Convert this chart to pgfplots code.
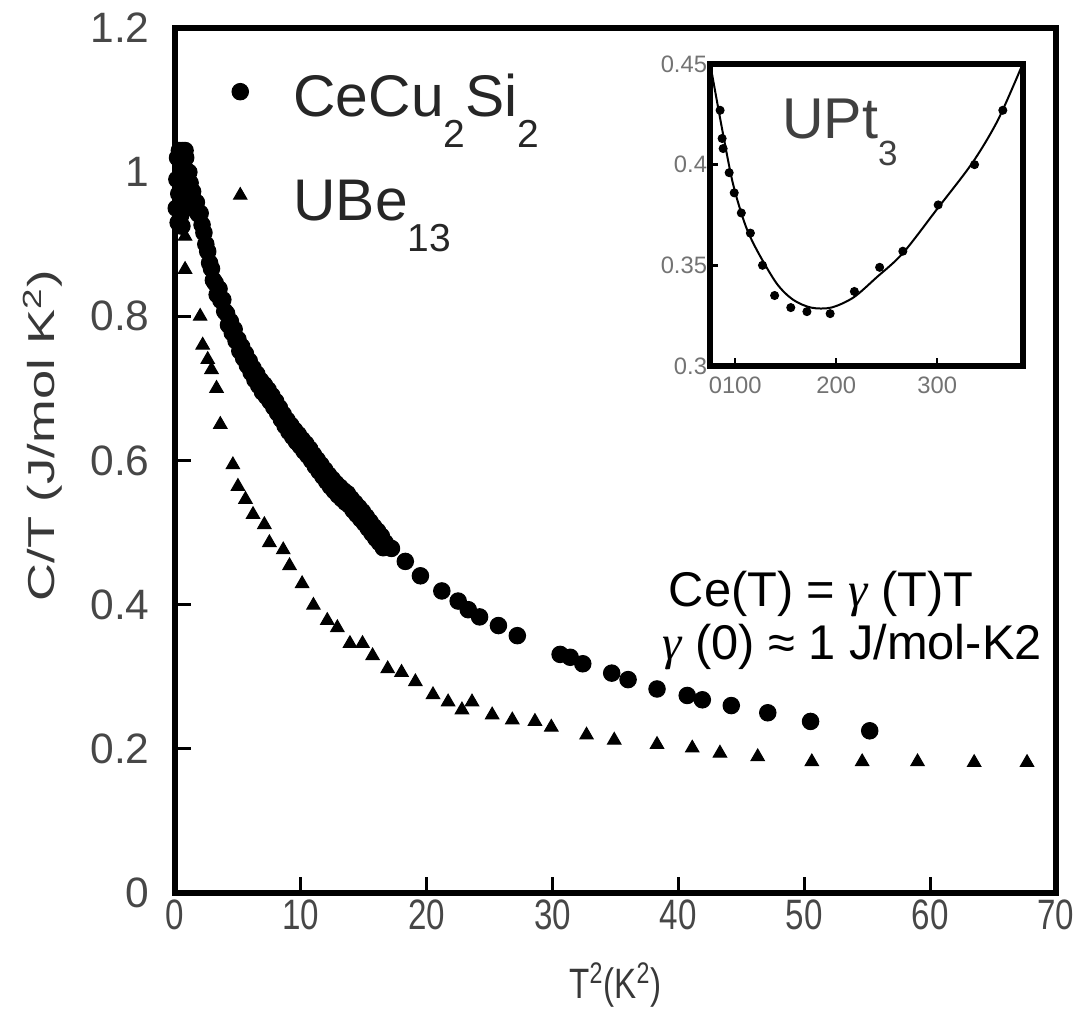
\documentclass[border=0pt]{standalone}
\usepackage{pgfplots}
\pgfplotsset{compat=1.18}
\usepackage{fontspec}
\setmainfont{Liberation Sans}
\newfontfamily\gamfont{Liberation Serif}
\newcommand{\gam}{{\gamfont\itshape γ}}
\newcommand{\lsub}[1]{\raisebox{-12.5pt}{\fontsize{15.6}{18}\selectfont #1}}
\newcommand{\xt}[1]{\scalebox{0.78}[1]{#1}}
\begin{document}
\begin{tikzpicture}
\path[use as bounding box] (-70pt,-56.4pt) rectangle (364.4pt,357.2pt);
\begin{axis}[
  scale only axis, width=352.4pt, height=346pt,
  xmin=0, xmax=70, ymin=0, ymax=1.2,
  clip=false,
  xtick={0,10,20,30,40,50,60,70},
  xticklabels={\xt{0},\xt{10},\xt{20},\xt{30},\xt{40},\xt{50},\xt{60},\xt{70}},
  ytick={0,0.2,0.4,0.6,0.8,1,1.2}, yticklabels={0,0.2,0.4,0.6,0.8,1,1.2},
  tick align=inside, major tick length=6.5pt, xtick pos=bottom, ytick pos=left,
  axis line style={line width=2.4pt},
  tick style={line width=1.2pt, black},
  ticklabel style={font=\fontsize{17}{20}\selectfont, text=black!72},
  xticklabel style={inner sep=0pt, anchor=north, yshift=-2.7pt},
  yticklabel style={inner sep=0pt, anchor=east, xshift=-10pt},
  xlabel={\scalebox{0.78}[1]{T\textsuperscript{2}(K\textsuperscript{2})}},
  ylabel={\scalebox{1.4}[1]{C/T (J/mol K\textsuperscript{2})}},
  xlabel style={font=\fontsize{17}{20}\selectfont, text=black!78, at={(axis description cs:0.5,0)}, anchor=center, yshift=-36.8pt},
  ylabel style={font=\fontsize{15}{18}\selectfont, text=black!78, at={(axis description cs:0,0.5)}, anchor=center, yshift=52.8pt, xshift=10pt},
  legend cell align=left,
  legend style={at={(axis cs:4.53,1.136)}, anchor=north west, draw=none, fill=none,
    inner sep=0pt, outer sep=0pt, row sep=12.8pt,
    font=\fontsize{23.5}{28}\selectfont, text=black!85,
    cells={anchor=base west},
    nodes={inner sep=0pt, text depth=},
    /tikz/every odd column/.append style={column sep=18pt}},
  legend image code/.code={\draw[#1] plot coordinates {(0pt,10pt)};},
]
\addplot[only marks, mark=*, mark size=3.3pt, black] coordinates {
(0.1,0.95)(0.15,0.99)(0.2,1.02)(0.3,0.97)(0.35,1.03)(0.45,0.94)(0.5,1.0)(0.6,1.03)
(0.65,0.96)(0.75,0.99)(0.85,1.02)(0.9,0.95)(1.0,0.975)(1.1,1.0)(1.15,0.955)(0.25,0.93)
(0.55,0.925)(0.8,1.03)(1.2,0.985)
(1.4,0.973)(1.55,0.957)(1.7,0.958)(1.85,0.942)(2.0,0.943)(2.15,0.927)(2.3,0.916)(2.45,0.900)
(2.6,0.890)(2.75,0.874)(2.9,0.866)(3.05,0.850)(3.2,0.846)(3.35,0.830)(3.5,0.838)(3.65,0.822)
(3.8,0.823)(3.95,0.807)(4.1,0.804)(4.25,0.788)(4.4,0.793)(4.55,0.777)(4.7,0.782)(4.85,0.766)
(5.0,0.768)(5.15,0.752)(5.3,0.758)(5.45,0.742)(5.6,0.748)(5.75,0.732)(5.9,0.738)(6.05,0.722)
(6.2,0.728)(6.35,0.712)(6.5,0.720)(6.65,0.704)(6.8,0.711)(6.95,0.695)(7.1,0.705)(7.25,0.689)
(7.4,0.698)(7.55,0.682)(7.7,0.690)(7.85,0.674)(8.0,0.682)(8.15,0.666)(8.3,0.673)(8.45,0.657)
(8.6,0.664)(8.75,0.648)(8.9,0.656)(9.05,0.640)(9.2,0.649)(9.35,0.633)(9.5,0.642)(9.65,0.626)
(9.8,0.636)(9.95,0.620)(10.1,0.629)(10.25,0.613)(10.4,0.623)(10.55,0.607)(10.7,0.616)(10.85,0.600)
(11.0,0.608)(11.15,0.592)(11.3,0.601)(11.45,0.585)(11.6,0.594)(11.75,0.578)(11.9,0.587)(12.05,0.571)
(12.2,0.580)(12.35,0.564)(12.5,0.574)(12.65,0.558)(12.8,0.568)(12.95,0.552)(13.1,0.563)(13.25,0.547)
(13.4,0.558)(13.55,0.542)(13.7,0.554)(13.85,0.538)(14.0,0.547)(14.15,0.531)(14.3,0.541)(14.45,0.525)
(14.6,0.535)(14.75,0.519)(14.9,0.529)(15.05,0.513)(15.2,0.522)(15.35,0.506)(15.5,0.515)(15.65,0.499)
(15.8,0.508)(15.95,0.492)(16.1,0.502)(16.25,0.486)(16.4,0.495)(16.55,0.479)(16.7,0.486)
(17.2,0.478)(18.3,0.460)(19.5,0.440)(21.2,0.419)(22.5,0.405)(23.3,0.393)(24.2,0.383)
(25.7,0.371)(27.2,0.357)(30.6,0.331)(31.4,0.327)(32.4,0.318)(34.7,0.305)(36.0,0.296)
(38.3,0.283)(40.7,0.274)(41.9,0.268)(44.2,0.260)(47.1,0.250)(50.5,0.238)(55.2,0.225)
};
\addlegendentry{CeCu\lsub{2}Si\lsub{2}}
\addplot[only marks, mark=triangle*, mark size=3.1pt, black] coordinates {
(0.8,0.911)(0.8,0.865)(2.0,0.800)(2.2,0.760)(2.6,0.740)(2.9,0.726)(3.3,0.700)(3.6,0.650)
(4.6,0.594)(5.0,0.564)(5.6,0.546)(6.2,0.525)(7.1,0.511)(7.5,0.486)(8.6,0.476)(9.1,0.454)
(10.1,0.429)(11.0,0.399)(12.1,0.378)(12.9,0.368)(13.9,0.346)(14.9,0.346)(15.7,0.329)
(16.9,0.311)(18.0,0.306)(19.1,0.293)(20.5,0.275)(21.7,0.265)(22.8,0.254)(23.6,0.265)
(25.2,0.247)(26.8,0.240)(28.6,0.238)(29.9,0.230)(32.7,0.219)(34.9,0.212)(38.3,0.206)
(41.1,0.201)(43.3,0.194)(46.3,0.189)(50.6,0.182)(54.6,0.182)(59.0,0.182)(63.5,0.181)(67.7,0.181)
};
\addlegendentry{UBe\lsub{13}}
\node[anchor=base west, font=\fontsize{19.5}{23}\selectfont, inner sep=0pt] at (axis cs:39.2,0.397) {Ce(T) = \gam\ (T)T};
\node[anchor=base west, font=\fontsize{19.5}{23}\selectfont, inner sep=0pt] at (axis cs:38.7,0.324) {\gam\ (0) ≈ 1 J/mol-K2};
\end{axis}
\begin{axis}[
  at={(214pt,210.8pt)}, anchor=south west,
  scale only axis, width=125.2pt, height=120.8pt,
  xmin=75, xmax=385, ymin=0.3, ymax=0.45,
  axis background/.style={fill=white},
  xtick={100,200,300}, xticklabels={0100,200,300},
  ytick={0.3,0.35,0.4,0.45}, yticklabels={0.3,0.35,0.4,0.45},
  tick align=inside, major tick length=3pt, xtick pos=bottom, ytick pos=left,
  axis line style={line width=2.4pt},
  tick style={line width=1pt, black},
  ticklabel style={font=\fontsize{9.5}{11}\selectfont, text=black!55},
  xticklabel style={inner sep=0pt, anchor=north, yshift=-4.2pt},
  yticklabel style={inner sep=0pt, anchor=east, xshift=-1pt},
]
\addplot[black, line width=0.8pt, smooth] coordinates {
(77,0.445)(88,0.415)(98,0.390)(110,0.370)(122,0.357)(141,0.341)(157,0.333)(175,0.329)
(195,0.329)(217,0.334)(240,0.344)(266,0.356)(300,0.378)(335,0.401)(360,0.422)(383,0.448)
};
\addplot[only marks, mark=*, mark size=1.6pt, black] coordinates {
(85,0.427)(87,0.413)(88,0.408)(94,0.396)(99,0.386)(106,0.376)(115,0.366)(127,0.350)
(139,0.335)(155,0.329)(171,0.327)(194,0.326)(218,0.337)(243,0.349)(266,0.357)(301,0.380)
(337,0.400)(365,0.427)
};
\node[anchor=base west, font=\fontsize{23}{27}\selectfont, text=black!75, inner sep=0pt] at (axis cs:146,0.413) {UPt\raisebox{-11pt}{\fontsize{14}{16}\selectfont 3}};
\end{axis}
\end{tikzpicture}
\end{document}
